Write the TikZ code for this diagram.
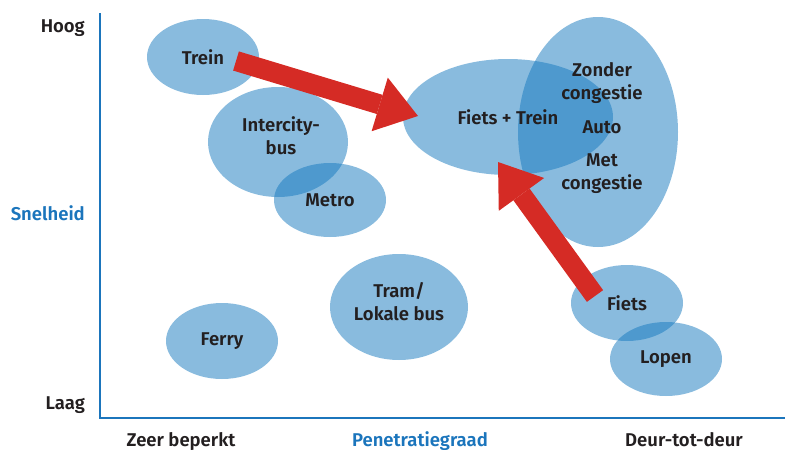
\documentclass[tikz,border=0pt]{standalone}
\usepackage{fontspec}
\setmainfont{Fira Sans}[BoldFont={Fira Sans SemiBold}]
\usetikzlibrary{shapes.geometric,arrows.meta}
\definecolor{modeblue}{RGB}{20,120,190}
\definecolor{axisblue}{RGB}{27,117,188}
\definecolor{arrowred}{RGB}{213,43,37}
\definecolor{textgray}{RGB}{35,31,32}
\tikzset{
  mode/.style={ellipse, fill=modeblue, fill opacity=0.5, text opacity=1,
    inner sep=0pt, align=center, text=textgray},
  lbl/.style={text=textgray, inner sep=0pt},
  bigarrow/.style={draw=arrowred, line width=20pt,
    -{Triangle[length=40pt,width=56pt,line width=0pt]}}
}

\begin{document}
\begin{tikzpicture}[x=1pt, y=-1pt, font=\fontsize{18.5}{23}\selectfont\bfseries]
\useasboundingbox (0,0) rectangle (785,450);

% axes
\draw[axisblue, line width=1.8pt] (100,13) -- (100,418) -- (785,418);

% axis labels
\node[lbl, anchor=base east] (hoog) at (85,32) {Hoog};
\node[lbl, anchor=base east, text=axisblue] (snelheid) at (85,220) {Snelheid};
\node[lbl, anchor=base east] (laag) at (85,409) {Laag};
\node[lbl, anchor=base] (beperkt) at (181,446) {Zeer beperkt};
\node[lbl, anchor=base, text=axisblue] (penetratie) at (420,446) {Penetratiegraad};
\node[lbl, anchor=base] (deur) at (684,446) {Deur-tot-deur};

% modes
\node[mode, minimum width=112pt, minimum height=76pt] (trein) at (203,57) {Trein};
\node[mode, minimum width=140pt, minimum height=110pt] (intercity) at (278,142) {};
\node[mode, minimum width=112pt, minimum height=74pt] (metro) at (330,200) {Metro};
\node[mode, minimum width=112pt, minimum height=76pt] (ferry) at (222,341) {Ferry};
\node[mode, minimum width=138pt, minimum height=106pt] (tram) at (399,307) {};
\node[mode, minimum width=160pt, minimum height=230pt] (auto) at (598,132) {};
\node[mode, minimum width=210pt, minimum height=116pt] (fietstrein) at (508,117) {Fiets + Trein};
\node[mode, minimum width=112pt, minimum height=76pt] (fiets) at (627,303) {Fiets};
\node[mode, minimum width=112pt, minimum height=74pt] (lopen) at (666,359) {Lopen};

% texts that sit off the centre
\node[lbl, align=center] (intercitytxt) at (281,136) {Intercity-\\bus};
\node[lbl, align=center] (tramtxt) at (399,302) {Tram/\\Lokale bus};
\node[lbl] (autotxt) at (602,127) {Auto};
\node[lbl, align=center] (zonder) at (602,83) {Zonder\\congestie};
\node[lbl, align=center] (met) at (602,174) {Met\\congestie};

% shifts
\coordinate (shiftA) at (236,61);
\coordinate (tipA) at (418,116);
\coordinate (shiftB) at (595,296);
\coordinate (tipB) at (498,162);
\draw[bigarrow] (shiftA) -- (tipA);
\draw[bigarrow] (shiftB) -- (tipB);

\end{tikzpicture}
\end{document}
